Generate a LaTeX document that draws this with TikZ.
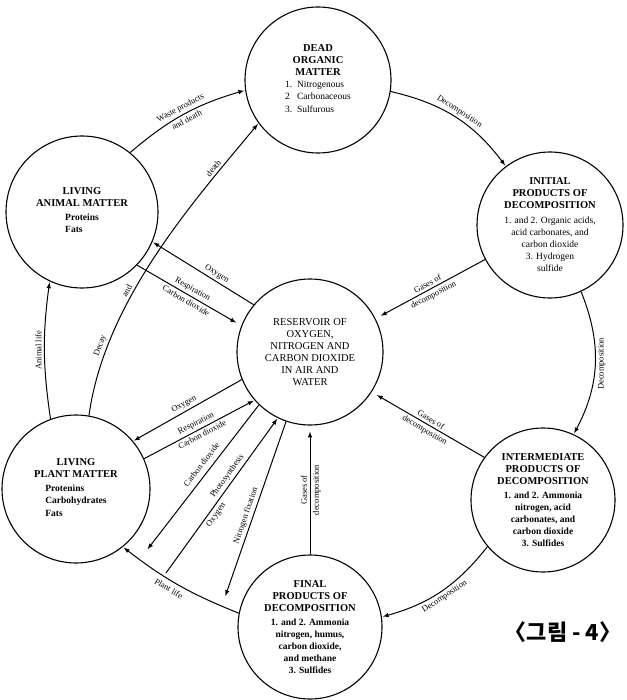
\documentclass[tikz,border=0pt]{standalone}
\usepackage{fontspec}
\setmainfont{Liberation Serif}
\newfontfamily\lblfont{Liberation Serif}
\newfontfamily\krfont{Noto Sans CJK KR}
\newcommand{\pooltitle}{\fontsize{10.5}{14}\selectfont\bfseries}
\newcommand{\poollist}{\fontsize{9.5}{13.5}\selectfont}
\newcommand{\flowlabel}{\lblfont\fontsize{8.5}{10}\selectfont}
\renewcommand{\arraystretch}{0.9}
\begin{document}
\begin{tikzpicture}[>=latex, x=1pt, y=-1pt, shorten >=1pt]
        \tikzstyle{pool}=[circle,line width=1.1pt,draw=black,align=center,inner sep=0pt]
        \tikzstyle{flow}=[draw,line width=1pt,->]
        \tikzstyle{lbl}=[font=\flowlabel,sloped,inner sep=2.5pt]
        \useasboundingbox (0,0) rectangle (626,700);
       \begin{scope}
         \node [pool,minimum size=146pt] (dead) at (318,80) {\pooltitle DEAD\\\pooltitle ORGANIC\\\pooltitle MATTER\\[3pt]
           \poollist\begin{tabular}{@{}l@{\ \ }l@{}}1. & Nitrogenous\\2 & Carbonaceous\\3. & Sulfurous\end{tabular}};
         \node [pool,minimum size=146pt] (initial) at (550,225) {\pooltitle INITIAL\\\pooltitle PRODUCTS OF\\\pooltitle DECOMPOSITION\\[3pt]
           \poollist 1. and 2. Organic acids,\\\poollist acid carbonates, and\\\poollist carbon dioxide\\\poollist 3. Hydrogen\\\poollist sulfide};
         \node [pool,minimum size=152pt] (animal) at (82,212) {\pooltitle LIVING\\\pooltitle ANIMAL MATTER\\[5pt]
           \poollist\bfseries\begin{tabular}{@{}l@{}}Proteins\\Fats\end{tabular}};
         \node [pool,minimum size=146pt] (reservoir) at (310,352) {\pooltitle\mdseries RESERVOIR OF\\\pooltitle\mdseries OXYGEN,\\\pooltitle\mdseries NITROGEN AND\\
           \pooltitle\mdseries CARBON DIOXIDE\\\pooltitle\mdseries IN AIR AND\\\pooltitle\mdseries WATER};
         \node [pool,minimum size=148pt] (plant) at (76,489) {\pooltitle LIVING\\\pooltitle PLANT MATTER\\[5pt]
           \poollist\bfseries\begin{tabular}{@{}l@{}}Protenins\\Carbohydrates\\Fats\end{tabular}};
         \node [pool,minimum size=144pt] (inter) at (543,500) {\pooltitle INTERMEDIATE\\\pooltitle PRODUCTS OF\\\pooltitle DECOMPOSITION\\[2pt]
           \poollist\bfseries 1. and 2. Ammonia\\\poollist\bfseries nitrogen, acid\\\poollist\bfseries carbonates, and\\\poollist\bfseries carbon dioxide\\\poollist\bfseries 3. Sulfides};
         \node [pool,minimum size=144pt] (final) at (310,627) {\pooltitle FINAL\\\pooltitle PRODUCTS OF\\\pooltitle DECOMPOSITION\\[2pt]
           \poollist\bfseries 1. and 2. Ammonia\\\poollist\bfseries nitrogen, humus,\\\poollist\bfseries carbon dioxide,\\\poollist\bfseries and methane\\\poollist\bfseries 3. Sulfides};
         \coordinate (co2) at (147,550);
         \coordinate (ps) at (166,573);
         \coordinate (nf) at (225,597);
         % outer cycle
         \path[flow] (animal.51) to[bend left=12] node[lbl,above] {Waste products} node[lbl,below] {and death} (dead.188);
         \path[flow] (plant.80) .. controls (105,300) and (195,200) .. node[lbl,above,pos=.2] {Decay} node[lbl,above,pos=.37] {and} node[lbl,above,pos=.8] {death} (dead.216);
         \path[flow] (dead.-9) to[bend left=20] node[lbl,above] {Decomposition} (initial.127);
         \path[flow] (initial.-65) to[bend left=25] node[midway,rotate=90,anchor=north,font=\flowlabel,inner sep=2.5pt] {Decomposition} (inter.65);
         \path[flow] (inter.220) to[bend left=18] node[lbl,below] {Decomposition} (final.8);
         \path[flow] (final.169) to[bend left=8] node[lbl,below=2pt,pos=.55] {Plant life} (plant.-51);
         \path[flow] (plant.110) to[bend left=8] node[midway,rotate=90,anchor=south,font=\flowlabel,inner sep=2.5pt] {Animal life} (animal.245);
         % exchanges with the reservoir
         \path[flow] (reservoir.140) -- node[lbl,above,pos=.4] {Oxygen} (animal.-23);
         \path[flow,shorten >=6pt] (animal.-44) -- node[lbl,above] {Respiration} node[lbl,below] {Carbon dioxide} (reservoir.159);
         \path[flow,shorten >=6pt] (initial.208) -- node[lbl,above] {Gases of} node[lbl,below] {decomposition} (reservoir.27);
         \path[flow,shorten >=6pt] (inter.144) -- node[lbl,above] {Gases of} node[lbl,below] {decomposition} (reservoir.-33);
         \path[flow,shorten >=6pt] (final.north) -- node[midway,rotate=90,anchor=south,font=\flowlabel,inner sep=2.5pt] {Gases of} node[midway,rotate=90,anchor=north,font=\flowlabel,inner sep=2.5pt] {decomposition} (reservoir.south);
         \path[flow] (reservoir.202) -- node[lbl,above] {Oxygen} (plant.40);
         \path[flow] (plant.24) -- node[lbl,above] {Respiration} node[lbl,below] {Carbon dioxide} (reservoir.221);
         \path[flow] (reservoir.226) -- node[lbl,above=3pt,pos=.45] {Carbon dioxide} (co2);
         \path[flow] (ps) -- node[lbl,above,pos=.6] {Photosynthesis} node[lbl,below,pos=.4] {Oxygen} (reservoir.244);
         \path[flow] (reservoir.251) -- node[lbl,above,pos=.55] {Nitrogen fixation} (nf);
         \node [font=\krfont\bfseries\fontsize{22}{26}\selectfont] (fig) at (563,632) {〈그림 - 4〉};
        \end{scope}
      \end{tikzpicture}
\end{document}
